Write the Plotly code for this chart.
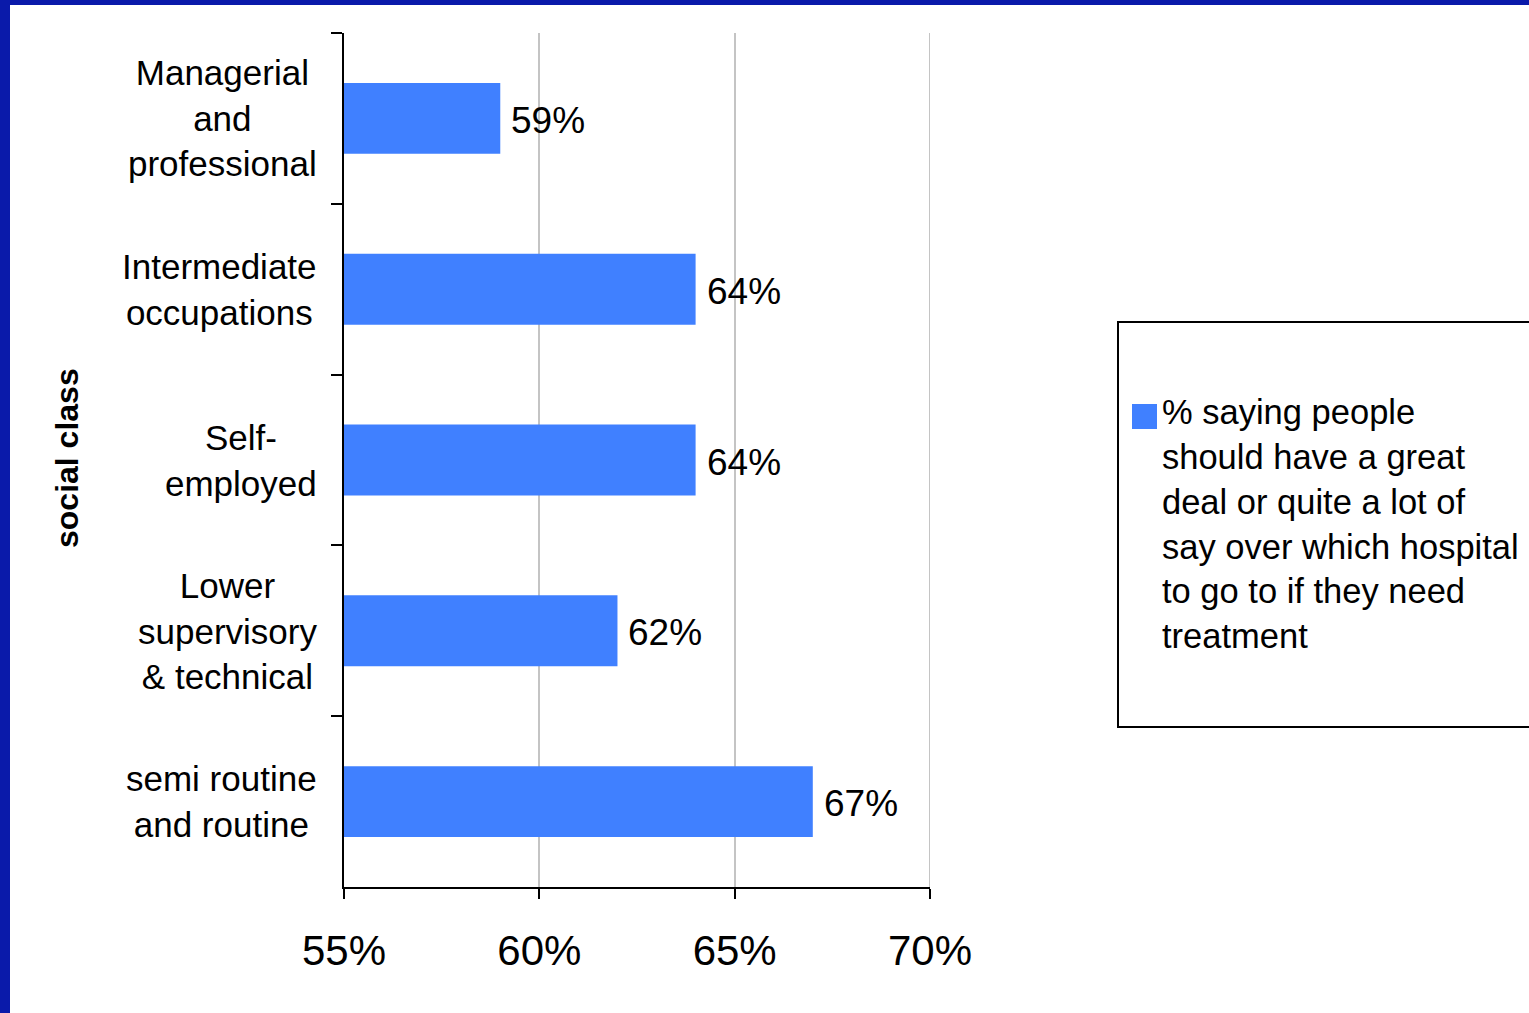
import plotly.graph_objects as go

# Data
categories = [
    "Managerial<br>and<br>professional",
    "Intermediate<br>occupations",
    "Self-<br>employed",
    "Lower<br>supervisory<br>& technical",
    "semi routine<br>and routine",
]
values = [59, 64, 64, 62, 67]
series_name = ("% saying people<br>should have a great<br>deal or quite a lot of<br>"
               "say over which hospital<br>to go to if they need<br>treatment")
x_ticks = [55, 60, 65, 70]

BAR_COLOR = "#4080FF"
FRAME_BLUE = "#0A1AAA"
GRID = "#C4C4C4"
FONT = "Liberation Sans, Arial, sans-serif"

W, H = 1529, 1013
L, R, T, B = 344, 930, 33, 887  # plot area in pixels


def px_x(p):
    return (p - L) / (R - L)


def px_y(p):
    return 1 - (p - T) / (B - T)


fig = go.Figure()
fig.add_trace(go.Bar(
    x=values,
    y=categories,
    orientation="h",
    marker=dict(color=BAR_COLOR, line=dict(width=0)),
    name=series_name,
    showlegend=False,
    hoverinfo="x+y",
))

annotations = []
# value labels beside each bar
for c, v in zip(categories, values):
    annotations.append(dict(
        x=v, y=c, xref="x", yref="y", text=f"{v}%", showarrow=False,
        xanchor="left", yanchor="middle", xshift=9, yshift=-2,
        font=dict(family=FONT, size=37, color="black"),
    ))
# category labels, centred in a block right-aligned against the axis
for c in categories:
    annotations.append(dict(
        x=0, y=c, xref="paper", yref="y", text=c, showarrow=False,
        xanchor="right", yanchor="middle", align="center", xshift=-25,
        font=dict(family=FONT, size=35, color="black"),
    ))
# axis title
annotations.append(dict(
    x=px_x(67), y=px_y(458), xref="paper", yref="paper", text="<b>social class</b>",
    showarrow=False, textangle=-90, xanchor="center", yanchor="middle",
    font=dict(family=FONT, size=32, color="black"),
))
# legend text
annotations.append(dict(
    x=px_x(1160), y=px_y(524), xref="paper", yref="paper", text=series_name,
    showarrow=False, xanchor="left", yanchor="middle", align="left",
    font=dict(family=FONT, size=34.5, color="black"),
))

shapes = [
    # gridline at the right end of the value axis
    dict(type="line", xref="x", yref="paper", x0=x_ticks[-1], x1=x_ticks[-1],
         y0=0, y1=1, line=dict(color=GRID, width=2), layer="below"),
    # blue frame, top and left edges
    dict(type="rect", xref="paper", yref="paper", x0=px_x(0), x1=px_x(10),
         y0=px_y(H + 5), y1=px_y(-5), fillcolor=FRAME_BLUE, line=dict(width=0), layer="above"),
    dict(type="rect", xref="paper", yref="paper", x0=px_x(0), x1=px_x(W + 5),
         y0=px_y(5), y1=px_y(-5), fillcolor=FRAME_BLUE, line=dict(width=0), layer="above"),
    # legend box
    dict(type="rect", xref="paper", yref="paper", x0=px_x(1118), x1=px_x(1545),
         y0=px_y(727), y1=px_y(322), fillcolor="rgba(0,0,0,0)",
         line=dict(color="black", width=2)),
    # legend swatch
    dict(type="rect", xref="paper", yref="paper", x0=px_x(1132), x1=px_x(1157),
         y0=px_y(429), y1=px_y(404), fillcolor=BAR_COLOR, line=dict(width=0)),
]

fig.update_layout(
    width=W, height=H,
    margin=dict(l=L, r=W - R, t=T, b=H - B, pad=0),
    paper_bgcolor="white",
    plot_bgcolor="white",
    bargap=0.585,
    showlegend=False,
    annotations=annotations,
    shapes=shapes,
    font=dict(family=FONT, color="black"),
    xaxis=dict(
        range=[55, 70],
        tickvals=x_ticks,
        ticktext=[f"{t}%" for t in x_ticks],
        showgrid=True, gridcolor=GRID, gridwidth=2,
        showline=True, linecolor="black", linewidth=2,
        ticks="outside", ticklen=10, tickwidth=2, tickcolor="black",
        ticklabelstandoff=16,
        tickfont=dict(family=FONT, size=42, color="black"),
        zeroline=False, fixedrange=True,
    ),
    yaxis=dict(
        autorange="reversed",
        showticklabels=False,
        showgrid=False,
        showline=True, linecolor="black", linewidth=2,
        ticks="outside", ticklen=11, tickwidth=2, tickcolor="black",
        tickson="boundaries",
        fixedrange=True,
    ),
)

fig.write_html("out.html")
